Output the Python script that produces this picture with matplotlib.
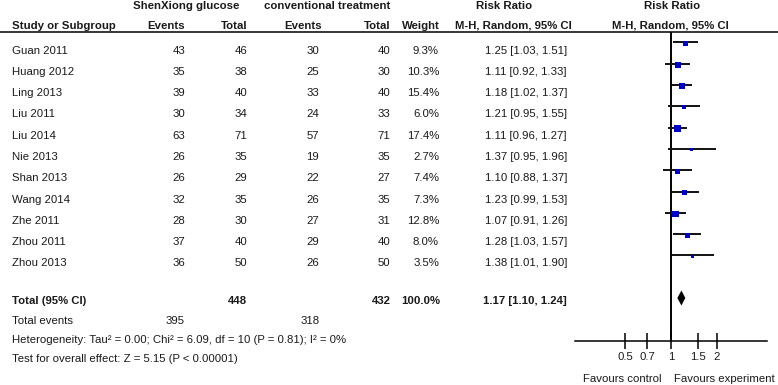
import numpy as np
import matplotlib.pyplot as plt

plt.rcParams['font.family'] = ['Liberation Sans', 'DejaVu Sans']

studies = ['Guan 2011', 'Huang 2012', 'Ling 2013', 'Liu 2011', 'Liu 2014', 'Nie 2013',
           'Shan 2013', 'Wang 2014', 'Zhe 2011', 'Zhou 2011', 'Zhou 2013']
exp_events = [43, 35, 39, 30, 63, 26, 26, 32, 28, 37, 36]
exp_total = [46, 38, 40, 34, 71, 35, 29, 35, 30, 40, 50]
ctl_events = [30, 25, 33, 24, 57, 19, 22, 26, 27, 29, 26]
ctl_total = [40, 30, 40, 33, 71, 35, 27, 35, 31, 40, 50]
weights = [9.3, 10.3, 15.4, 6.0, 17.4, 2.7, 7.4, 7.3, 12.8, 8.0, 3.5]
rr = [1.25, 1.11, 1.18, 1.21, 1.11, 1.37, 1.10, 1.23, 1.07, 1.28, 1.38]
rr_lo = [1.03, 0.92, 1.02, 0.95, 0.96, 0.95, 0.88, 0.99, 0.91, 1.03, 1.01]
rr_hi = [1.51, 1.33, 1.37, 1.55, 1.27, 1.96, 1.37, 1.53, 1.26, 1.57, 1.90]

total_exp, total_ctl = 448, 432
events_exp, events_ctl = 395, 318
pooled, pooled_lo, pooled_hi = 1.17, 1.10, 1.24
heterogeneity = 'Heterogeneity: Tau\u00b2 = 0.00; Chi\u00b2 = 6.09, df = 10 (P = 0.81); I\u00b2 = 0%'
overall = 'Test for overall effect: Z = 5.15 (P < 0.00001)'
ticks = [0.5, 0.7, 1, 1.5, 2]

W, H = 778, 385
fs = 8.2
txt = '#1a1a1a'

fig = plt.figure(figsize=(W / 100, H / 100), dpi=100)
ax = fig.add_axes([0, 0, 1, 1])
ax.set_xlim(0, W)
ax.set_ylim(H, 0)
ax.axis('off')

# row layout (pixels)
row0, step = 50.5, 21.3
rows = row0 + step * np.arange(len(studies))
y_total, y_events, y_het, y_test = 301, 321, 340, 359

# headers
b = dict(fontsize=fs, fontweight='bold', color=txt, va='center')
ax.text(186, 6, 'ShenXiong glucose', ha='center', **b)
ax.text(327, 6, 'conventional treatment', ha='center', **b)
ax.text(504, 6, 'Risk Ratio', ha='center', **b)
ax.text(672, 6, 'Risk Ratio', ha='center', **b)
ax.text(12, 26, 'Study or Subgroup', ha='left', **b)
ax.text(185, 26, 'Events', ha='right', **b)
ax.text(248, 26, 'Total', ha='right', **b)
ax.text(322, 26, 'Events', ha='right', **b)
ax.text(391, 26, 'Total', ha='right', **b)
ax.text(440, 26, 'Weight', ha='right', **b)
ax.text(513, 26, 'M-H, Random, 95% CI', ha='center', **b)
ax.text(670, 26, 'M-H, Random, 95% CI', ha='center', **b)
ax.plot([0, W], [32, 32], color='black', lw=1.1)

# study rows
n = dict(fontsize=fs, color=txt, va='center')
for i, y in enumerate(rows):
    ax.text(12, y, studies[i], ha='left', **n)
    ax.text(185, y, str(exp_events[i]), ha='right', **n)
    ax.text(247, y, str(exp_total[i]), ha='right', **n)
    ax.text(319, y, str(ctl_events[i]), ha='right', **n)
    ax.text(390, y, str(ctl_total[i]), ha='right', **n)
    ax.text(439, y, f'{weights[i]:.1f}%', ha='right', **n)
    ax.text(567, y, f'{rr[i]:.2f} [{rr_lo[i]:.2f}, {rr_hi[i]:.2f}]', ha='right', **n)

# totals
ax.text(12, y_total, 'Total (95% CI)', ha='left', **b)
ax.text(247, y_total, str(total_exp), ha='right', **b)
ax.text(391, y_total, str(total_ctl), ha='right', **b)
ax.text(440, y_total, '100.0%', ha='right', **b)
ax.text(567, y_total, f'{pooled:.2f} [{pooled_lo:.2f}, {pooled_hi:.2f}]', ha='right', **b)
ax.text(12, y_events, 'Total events', ha='left', **n)
ax.text(185, y_events, str(events_exp), ha='right', **n)
ax.text(320, y_events, str(events_ctl), ha='right', **n)
ax.text(12, y_het, heterogeneity, ha='left', **n)
ax.text(12, y_test, overall, ha='left', **n)
ax.text(662, 379, 'Favours control', ha='right', **n)
ax.text(674, 379, 'Favours experiment', ha='left', **n)

# forest panel: x=1 at px 671, 153 px per decade
x1, ppd, left, right, top, bottom = 671, 153, 575, 767, 32, 341
fx = fig.add_axes([left / W, (H - bottom) / H, (right - left) / W, (bottom - top) / H])
fx.set_xscale('log')
fx.set_xlim(10 ** ((left - x1) / ppd), 10 ** ((right - x1) / ppd))
fx.set_ylim(bottom, top)
fx.patch.set_visible(False)
for s in ['top', 'left', 'right']:
    fx.spines[s].set_visible(False)
fx.spines['bottom'].set_linewidth(1.1)
fx.set_yticks([])
fx.set_xticks(ticks)
fx.set_xticklabels([f'{t:g}' for t in ticks], fontsize=fs, color=txt)
fx.minorticks_off()
fx.tick_params(axis='x', direction='inout', length=11, width=1.1, pad=2.5)
fx.axvline(1, color='black', lw=1.4)

ci_y = rows - 8
fx.hlines(ci_y, rr_lo, rr_hi, color='#111111', lw=1.4)
side_pt = np.maximum(1.7 * np.sqrt(weights), 3) * 0.72
fx.scatter(rr, ci_y + 1, marker='s', s=side_pt ** 2, color='#0000cc', linewidths=0, zorder=3)

yd = y_total - 3
fx.fill([pooled_lo, pooled, pooled_hi, pooled], [yd, yd - 7.5, yd, yd + 7.5],
        color='black', lw=0, zorder=3)

fig.savefig('out.png', dpi=100)
